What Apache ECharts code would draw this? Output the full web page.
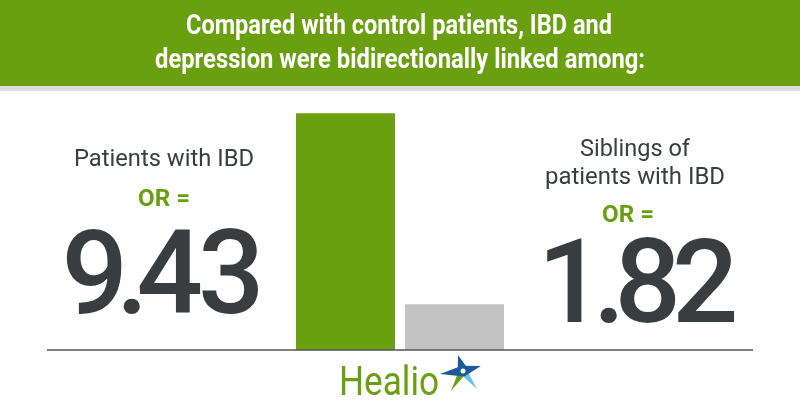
<!DOCTYPE html>
<html><head><meta charset="utf-8">
<script src="https://cdn.jsdelivr.net/npm/echarts@6/dist/echarts.min.js"></script>
<style>html,body{margin:0;padding:0;background:#fff}#c{width:800px;height:420px}</style>
</head><body><div id="c"></div>
<script>
const categories = ['Patients with IBD', 'Siblings of patients with IBD'];
const oddsRatios = [9.43, 1.82];
const barColors = ['#6a9f10', '#c3c3c3'];
const titleLines = ['Compared with control patients, IBD and', 'depression were bidirectionally linked among:'];
const leftLabel = ['Patients with IBD'];
const rightLabel = ['Siblings of', 'patients with IBD'];
const valueLabels = ['9.43', '1.82'];

const chart = echarts.init(document.getElementById('c'));
const green = '#6a9f10';
const dark = '#3a3d3f';

const mctx = document.createElement('canvas').getContext('2d');
function fitText(text, font, targetW, x, y, fill) {
  mctx.font = font;
  const w = mctx.measureText(text).width;
  const s = targetW / w;
  return { type: 'text', x: x, y: y, scaleX: s, z: 5,
    style: { text: text, fill: fill, font: font, textAlign: 'center', textVerticalAlign: 'middle' } };
}
function trackedText(text, font, track, periodTrack, cx, y, fill) {
  mctx.font = font;
  const chars = text.split('');
  const widths = chars.map(c => mctx.measureText(c).width);
  const gaps = [];
  for (let i = 0; i < chars.length - 1; i++) {
    gaps.push((chars[i] === '.' || chars[i + 1] === '.') ? periodTrack : track);
  }
  const total = widths.reduce((a, b) => a + b, 0) + gaps.reduce((a, b) => a + b, 0);
  let x = cx - total / 2;
  const children = chars.map((c, i) => {
    const el = { type: 'text', x: x, y: y, z: 5,
      style: { text: c, fill: fill, font: font, textAlign: 'left', textVerticalAlign: 'middle' } };
    x += widths[i] + (gaps[i] || 0);
    return el;
  });
  return { type: 'group', children: children };
}
function ray(c, t, w, fill) {
  const dx = t[0] - c[0], dy = t[1] - c[1];
  const L = Math.sqrt(dx * dx + dy * dy);
  const px = -dy / L * w, py = dx / L * w;
  return { type: 'polygon', z: 6, shape: { points: [[c[0] + px, c[1] + py], t, [c[0] - px, c[1] - py], [c[0] - dx / L * w, c[1] - dy / L * w]] }, style: { fill: fill } };
}
const starC = [463, 371];
const titleFont = 'bold 28px Roboto, sans-serif';
const bigFont = '500 117px Roboto, sans-serif';
const labelFont = '24px Roboto, sans-serif';
const orFont = 'bold 24px Roboto, sans-serif';

chart.setOption({
  animation: false,
  backgroundColor: '#fff',
  grid: { left: 291, width: 218, top: 113.3, bottom: 70 },
  xAxis: { type: 'category', data: categories, show: false },
  yAxis: { type: 'value', min: 0, max: 9.43, show: false },
  series: [{
    type: 'bar', barWidth: 99,
    data: oddsRatios.map((v, i) => ({ value: v, itemStyle: { color: barColors[i] } }))
  }],
  graphic: [
    { type: 'rect', shape: { x: 0, y: 0, width: 800, height: 86 }, style: { fill: green }, z: 1 },
    { type: 'rect', shape: { x: 0, y: 86, width: 800, height: 5 }, style: { fill: '#dcdcdc' }, z: 1 },
    fitText(titleLines[0], titleFont, 426, 399, 27, '#fff'),
    fitText(titleLines[1], titleFont, 490, 400, 61, '#fff'),
    { type: 'line', shape: { x1: 47, y1: 350, x2: 753, y2: 350 }, style: { stroke: '#555', lineWidth: 1.5 }, z: 3 },
    fitText(leftLabel[0], labelFont, 180, 164, 160, dark),
    fitText('OR =', orFont, 52, 164, 200, green),
    trackedText(valueLabels[0], bigFont, -5, -12, 163, 284, dark),
    fitText(rightLabel[0], labelFont, 110, 635, 150, dark),
    fitText(rightLabel[1], labelFont, 180, 635, 178, dark),
    fitText('OR =', orFont, 52, 628, 216, green),
    trackedText(valueLabels[1], bigFont, -9, -11, 638, 293, dark),
    fitText('Healio', '40px Roboto, sans-serif', 100, 389, 385, green),
    ray(starC, [451, 391], 4, green),
    ray(starC, [477, 389], 4, '#6cc3e8'),
    ray(starC, [440, 374], 5.5, '#1d5a9a'),
    ray(starC, [458, 355], 5.5, '#1d5a9a'),
    ray(starC, [481, 366], 5.5, '#1d5a9a'),
    { type: 'circle', z: 7, shape: { cx: starC[0], cy: starC[1], r: 2.5 }, style: { fill: '#ffffff' } }
  ]
});
</script></body></html>
